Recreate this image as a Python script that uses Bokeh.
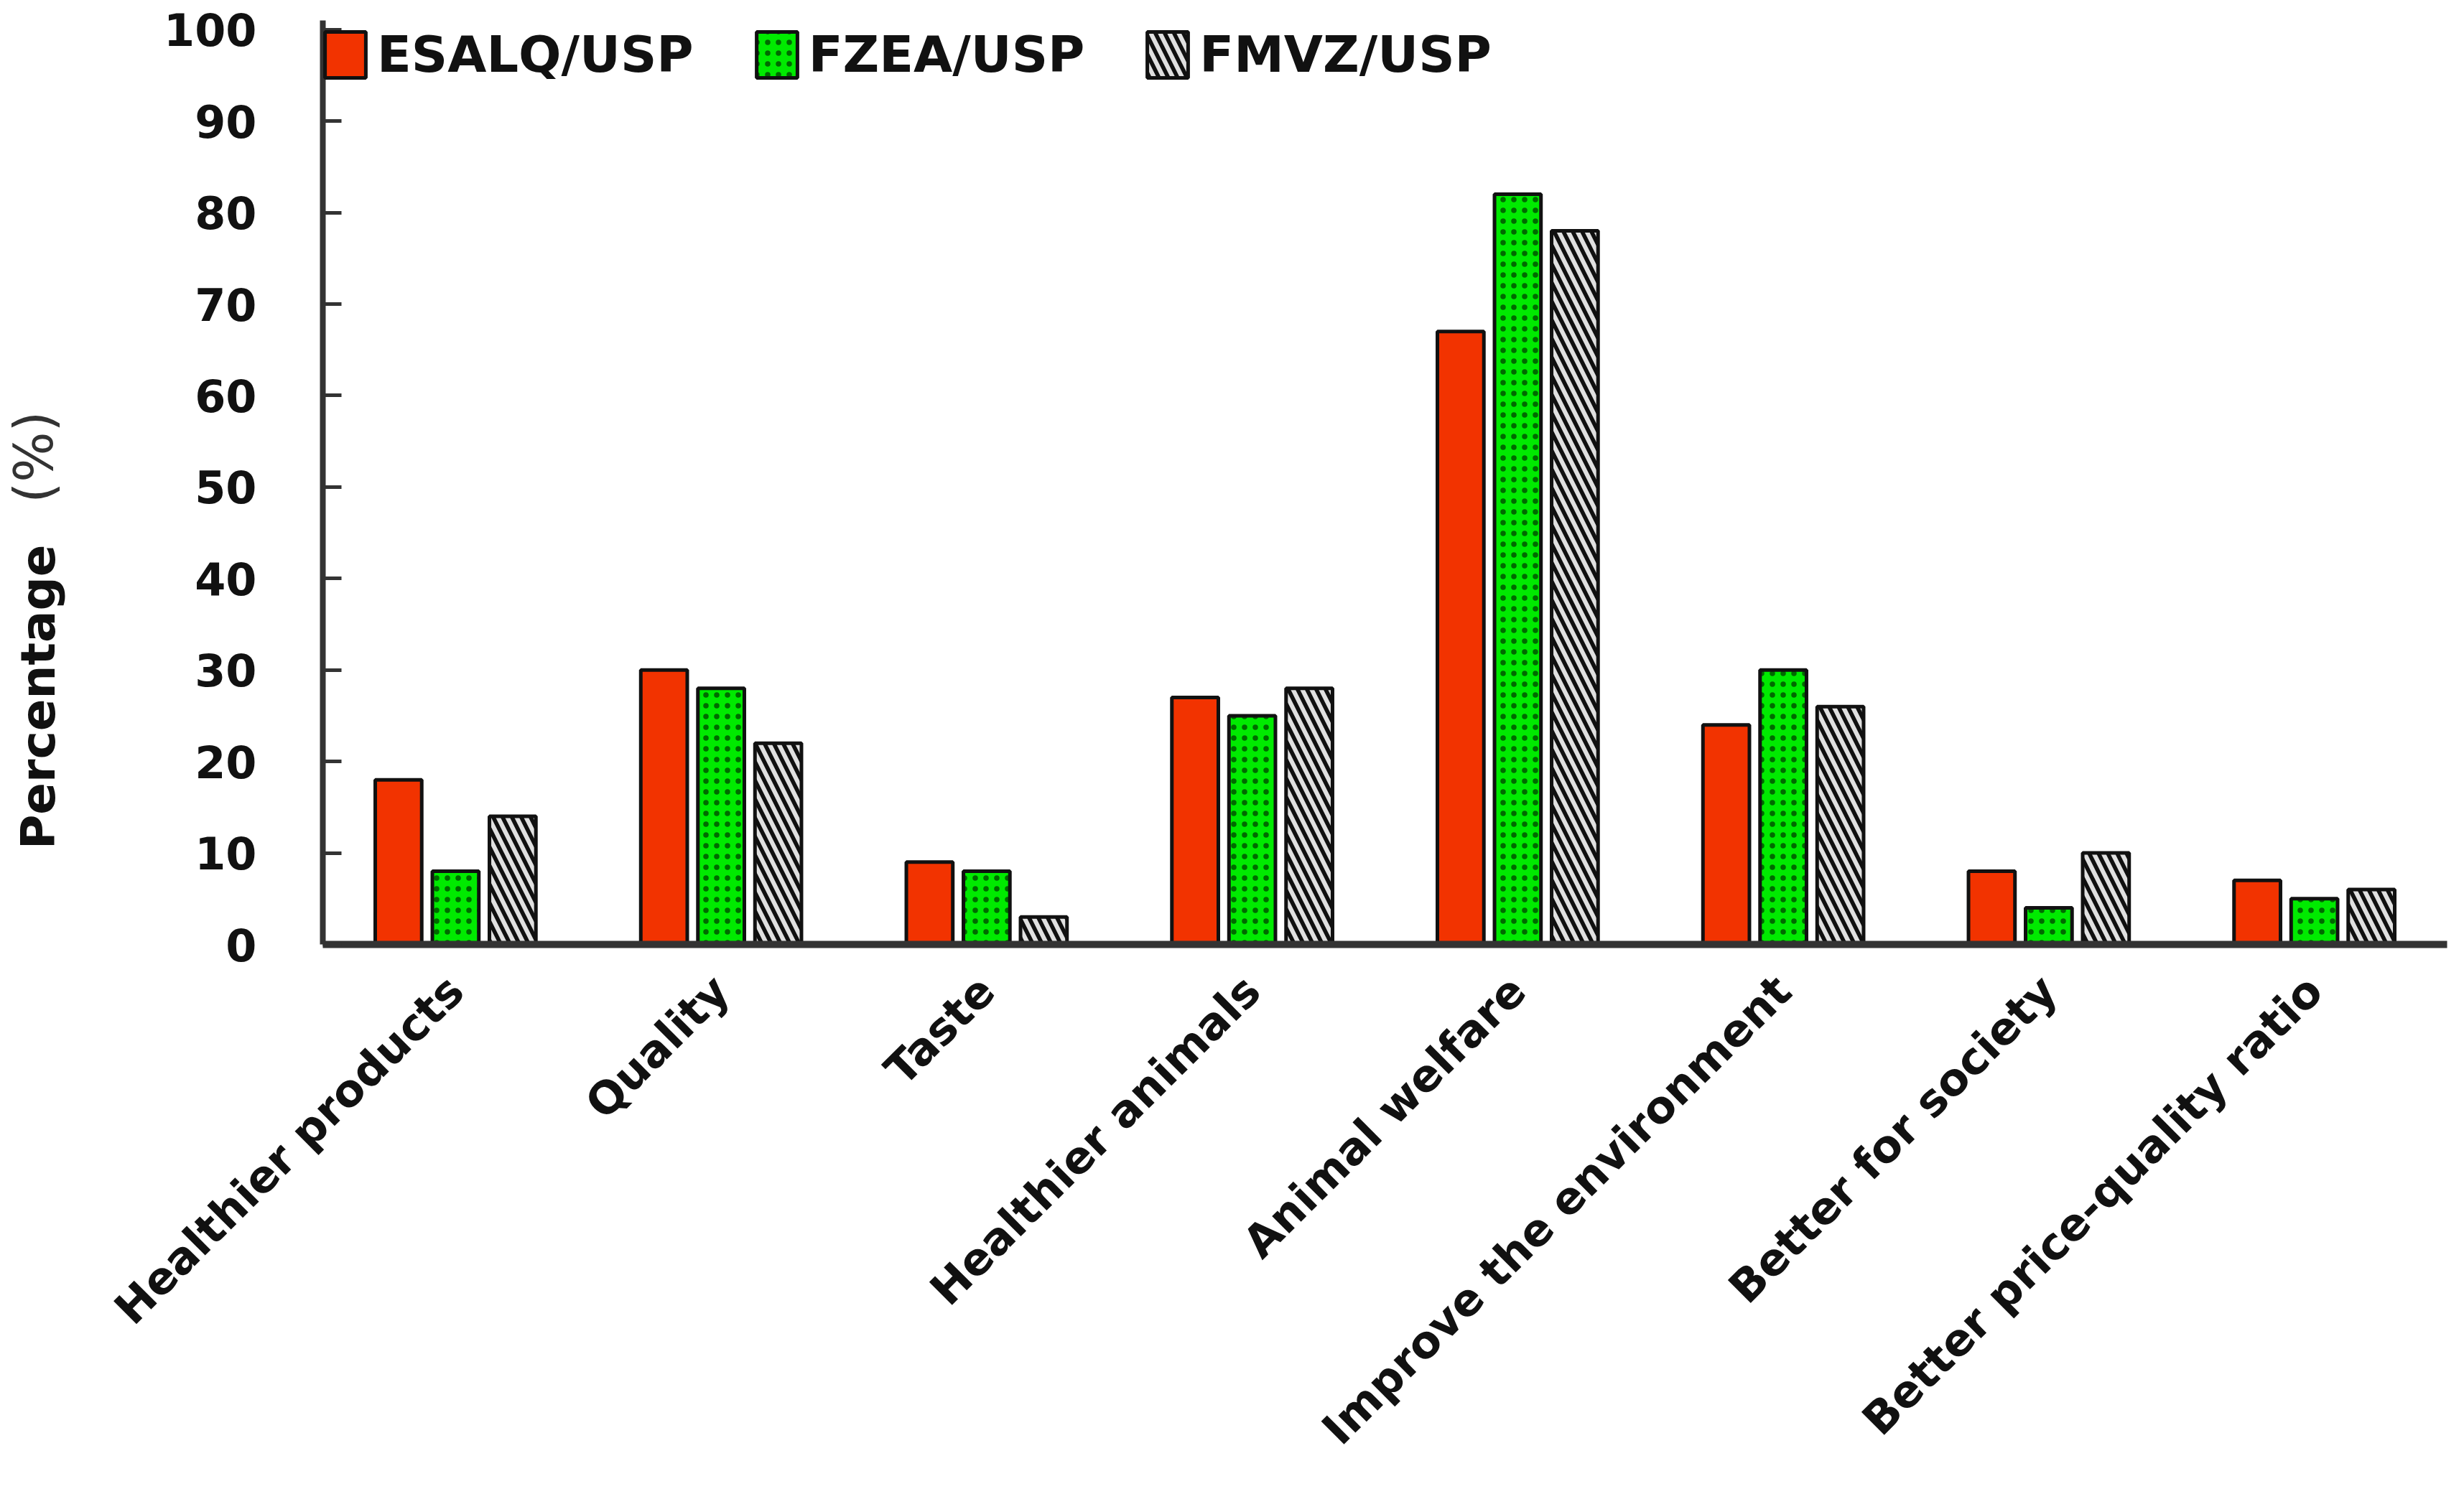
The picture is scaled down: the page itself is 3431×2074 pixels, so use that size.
import math
from bokeh.plotting import figure
from bokeh.models import (ColumnDataSource, FactorRange, Range1d, FixedTicker,
                          Legend, LegendItem, LinearAxis)
from bokeh.transform import dodge
from bokeh.embed import file_html
from bokeh.resources import INLINE

categories = ["Healthier products", "Quality", "Taste", "Healthier animals",
              "Animal welfare", "Improve the environment", "Better for society",
              "Better price-quality ratio"]
esalq = [18, 30, 9, 27, 67, 24, 8, 7]
fzea = [8, 28, 8, 25, 82, 30, 4, 5]
fmvz = [14, 22, 3, 28, 78, 26, 10, 6]
series_names = ["ESALQ/USP", "FZEA/USP", "FMVZ/USP"]
y_ticks = [0, 10, 20, 30, 40, 50, 60, 70, 80, 90, 100]
y_title_main = "Percentage"
y_title_unit = "(%)"

FONT = "DejaVu Sans"
NBSP = "\u00a0"

source = ColumnDataSource(dict(cat=categories, esalq=esalq, fzea=fzea, fmvz=fmvz))

p = figure(width=3415, height=2058,
           x_range=FactorRange(*categories), y_range=Range1d(0, 101),
           output_backend="svg", toolbar_location=None,
           min_border_left=446, min_border_right=8,
           min_border_top=28, min_border_bottom=743)
p.outline_line_color = None
p.xgrid.grid_line_color = None
p.ygrid.grid_line_color = None
p.background_fill_color = "white"

bw = 0.175
off = 0.215
r1 = p.vbar(x=dodge("cat", -off, range=p.x_range), top="esalq", width=bw, source=source,
            fill_color="#f23300", line_color="#111111", line_width=5)
r2 = p.vbar(x=dodge("cat", 0.0, range=p.x_range), top="fzea", width=bw, source=source,
            fill_color="#00ea00", line_color="#111111", line_width=5,
            hatch_pattern="dot", hatch_color="#006a00", hatch_scale=15, hatch_weight=5)
r3 = p.vbar(x=dodge("cat", off, range=p.x_range), top="fmvz", width=bw, source=source,
            fill_color="#101010", line_color="#111111", line_width=5,
            hatch_pattern="left_diagonal_line", hatch_color="#e0e0e0",
            hatch_scale=26, hatch_weight=6)

# y axis
ya = p.yaxis[0]
ya.ticker = FixedTicker(ticks=y_ticks)
ya.axis_line_width = 8
ya.axis_line_color = "#333333"
ya.major_tick_in = 26
ya.major_tick_out = 0
ya.major_tick_line_width = 5
ya.major_tick_line_color = "#333333"
ya.minor_tick_line_color = None
ya.major_label_standoff = 92
ya.major_label_text_font = FONT
ya.major_label_text_font_style = "bold"
ya.major_label_text_font_size = "62px"
ya.major_label_text_color = "#111111"

# x axis
xa = p.xaxis[0]
xa.axis_line_width = 10
xa.axis_line_color = "#333333"
xa.major_tick_in = 0
xa.major_tick_out = 0
xa.minor_tick_line_color = None
xa.major_label_orientation = math.pi / 4
xa.major_label_standoff = 54
xa.major_label_text_font = FONT
xa.major_label_text_font_style = "bold"
xa.major_label_text_font_size = "62px"
xa.major_label_text_color = "#111111"

# y axis title: two label-only axes (bold "Percentage", regular "(%)");
# non-breaking spaces shift each part along the axis to where the reference has it
def title_axis(text, standoff, style, size, color):
    ax = LinearAxis(ticker=FixedTicker(ticks=[]),
                    axis_label=text, axis_label_standoff=standoff,
                    axis_label_text_font=FONT, axis_label_text_font_style=style,
                    axis_label_text_font_size=size, axis_label_text_color=color,
                    axis_line_color=None, major_tick_line_color=None,
                    minor_tick_line_color=None, major_tick_in=0, major_tick_out=0,
                    minor_tick_in=0, minor_tick_out=0, major_label_standoff=0)
    p.add_layout(ax, "left")
    return ax

title_axis(y_title_main + NBSP * 26, 134, "bold", "66px", "#111111")
title_axis(NBSP * 3 + y_title_unit, -78, "normal", "74px", "#333333")

legend = Legend(items=[LegendItem(label=series_names[0], renderers=[r1]),
                       LegendItem(label=series_names[1], renderers=[r2]),
                       LegendItem(label=series_names[2], renderers=[r3])],
                orientation="horizontal", location=(-4, 1287 - 80 - 9),
                glyph_width=71, glyph_height=80, label_standoff=9, spacing=80,
                padding=0, margin=0, border_line_color=None,
                background_fill_alpha=0,
                label_text_font=FONT, label_text_font_style="bold",
                label_text_font_size="70px", label_text_color="#111111",
                label_text_baseline="middle", label_height=80)
p.add_layout(legend, "center")

open("out.html", "w").write(file_html(p, INLINE))
